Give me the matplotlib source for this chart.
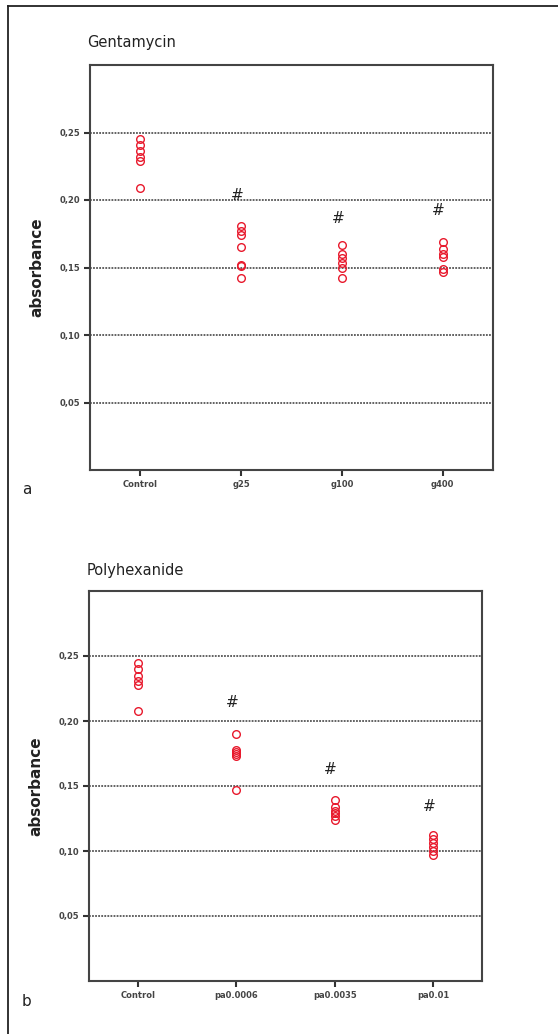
import matplotlib
matplotlib.use("Agg")
import matplotlib.pyplot as plt
from matplotlib.lines import Line2D

# ---- data ----
genta_groups = ["Control", "g25", "g100", "g400"]
genta_values = [
    [0.245, 0.241, 0.236, 0.232, 0.229, 0.209],
    [0.181, 0.177, 0.174, 0.165, 0.152, 0.151, 0.142],
    [0.167, 0.160, 0.157, 0.153, 0.150, 0.142],
    [0.169, 0.164, 0.160, 0.158, 0.149, 0.147],
]
genta_sig = [None, 0.203, 0.186, 0.192]

poly_groups = ["Control", "pa0.0006", "pa0.0035", "pa0.01"]
poly_values = [
    [0.245, 0.240, 0.235, 0.231, 0.228, 0.208],
    [0.190, 0.178, 0.176, 0.175, 0.173, 0.147],
    [0.139, 0.134, 0.131, 0.129, 0.127, 0.124],
    [0.112, 0.109, 0.106, 0.103, 0.100, 0.097],
]
poly_sig = [None, 0.214, 0.163, 0.134]

yticks = [0.05, 0.10, 0.15, 0.20, 0.25]
ytick_labels = ["0,05", "0,10", "0,15", "0,20", "0,25"]

W, H = 558, 1034
fig = plt.figure(figsize=(W / 100, H / 100), dpi=100)

# outer frame
fig.add_artist(Line2D([8 / W, 8 / W], [0, 1 - 6 / H], transform=fig.transFigure,
                      color="#222222", lw=1.3))
fig.add_artist(Line2D([8 / W, 1], [1 - 6 / H, 1 - 6 / H], transform=fig.transFigure,
                      color="#222222", lw=1.3))


def panel(rect, groups, values, sig, title, title_y, letter, letter_y):
    l, t, r, b = rect
    ax = fig.add_axes([l / W, 1 - b / H, (r - l) / W, (b - t) / H])
    for i, vals in enumerate(values):
        ax.plot([i + 1] * len(vals), vals, linestyle="none", marker="o",
                markersize=5.5, markerfacecolor="none", markeredgecolor="#e8192c",
                markeredgewidth=1.0, zorder=3)
        if sig[i] is not None:
            ax.text(i + 1 - 0.04, sig[i], "#", ha="center", va="center",
                    fontsize=11, color="#222222", zorder=4)
    ax.set_xlim(0.5, len(groups) + 0.5)
    ax.set_ylim(0.0, 0.30)
    ax.set_yticks(yticks)
    ax.set_yticklabels(ytick_labels, fontsize=6, fontweight="bold", color="#444444")
    ax.set_xticks(range(1, len(groups) + 1))
    ax.set_xticklabels(groups, fontsize=6, fontweight="bold", color="#444444")
    ax.tick_params(axis="both", direction="out", length=4, width=1.5, color="#333333", pad=3)
    for y in yticks:
        ax.axhline(y, color="#555555", lw=1.3, linestyle=(0, (1.0, 0.7)), zorder=1)
    for s in ax.spines.values():
        s.set_color("#444444")
        s.set_linewidth(1.5)
    ax.set_ylabel("absorbance", fontsize=11, fontweight="bold", labelpad=11, color="#222222")
    fig.text(l / W - 0.005, 1 - title_y / H, title, fontsize=10.5, ha="left", va="center",
             color="#222222")
    fig.text(22 / W, 1 - letter_y / H, letter, fontsize=11, ha="left", va="center",
             color="#222222")
    return ax


panel((90, 65, 493, 470), genta_groups, genta_values, genta_sig,
      "Gentamycin", 43, "a", 490)
panel((89, 591, 482, 981), poly_groups, poly_values, poly_sig,
      "Polyhexanide", 570, "b", 1002)

fig.savefig("out.png", dpi=100)
